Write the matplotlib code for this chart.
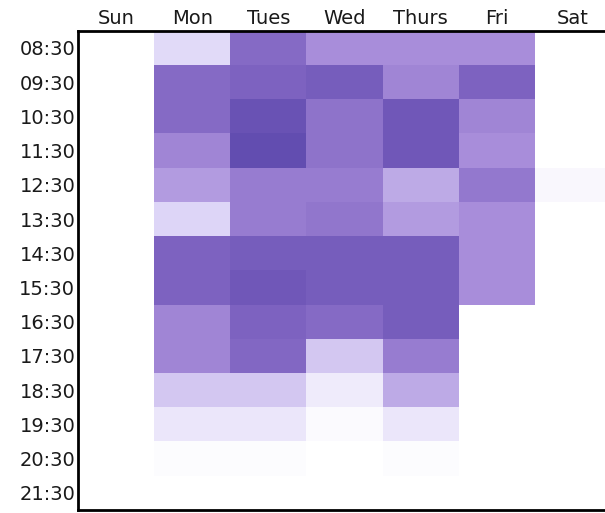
import matplotlib.pyplot as plt
import numpy as np
from matplotlib.colors import LinearSegmentedColormap

days = ["Sun", "Mon", "Tues", "Wed", "Thurs", "Fri", "Sat"]
times = ["08:30", "09:30", "10:30", "11:30", "12:30", "13:30", "14:30",
         "15:30", "16:30", "17:30", "18:30", "19:30", "20:30", "21:30"]

# activity level per time slot, one list per day (0 = none, 1 = busiest)
sun = [0, 0, 0, 0, 0, 0, 0, 0, 0, 0, 0, 0, 0, 0]
mon = [0.22, 0.7, 0.7, 0.55, 0.45, 0.25, 0.75, 0.75, 0.55, 0.55, 0.3, 0.15, 0.02, 0]
tues = [0.7, 0.75, 0.9, 0.95, 0.6, 0.6, 0.8, 0.85, 0.75, 0.72, 0.3, 0.15, 0.02, 0]
wed = [0.5, 0.8, 0.65, 0.65, 0.6, 0.63, 0.8, 0.8, 0.7, 0.3, 0.12, 0.03, 0, 0]
thurs = [0.5, 0.55, 0.85, 0.85, 0.4, 0.45, 0.8, 0.8, 0.8, 0.6, 0.4, 0.15, 0.02, 0]
fri = [0.5, 0.75, 0.55, 0.5, 0.62, 0.5, 0.5, 0.5, 0, 0, 0, 0, 0, 0]
sat = [0, 0, 0, 0, 0.05, 0, 0, 0, 0, 0, 0, 0, 0, 0]

grid = np.array([sun, mon, tues, wed, thurs, fri, sat]).T

cmap = LinearSegmentedColormap.from_list(
    "lav", ["#ffffff", "#ddd5f7", "#a88dda", "#7d62c0", "#5c48ac"])

fig = plt.figure(figsize=(6.05, 5.13), dpi=100)
ax = fig.add_axes([0.129, 0.006, 0.881, 0.934])
ax.pcolormesh(grid, cmap=cmap, vmin=0, vmax=1)
ax.set_xlim(0, len(days))
ax.set_ylim(len(times), 0)

ax.xaxis.tick_top()
ax.set_xticks(np.arange(len(days)) + 0.5)
ax.set_xticklabels(days, fontsize=14, color="#1a1a1a")
ax.set_yticks(np.arange(len(times)) + 0.5)
ax.set_yticklabels(times, fontsize=14, color="#1a1a1a")
ax.tick_params(length=0, pad=2)

for s in ax.spines.values():
    s.set_linewidth(2)
    s.set_color("black")

fig.savefig("out.png", dpi=100)
